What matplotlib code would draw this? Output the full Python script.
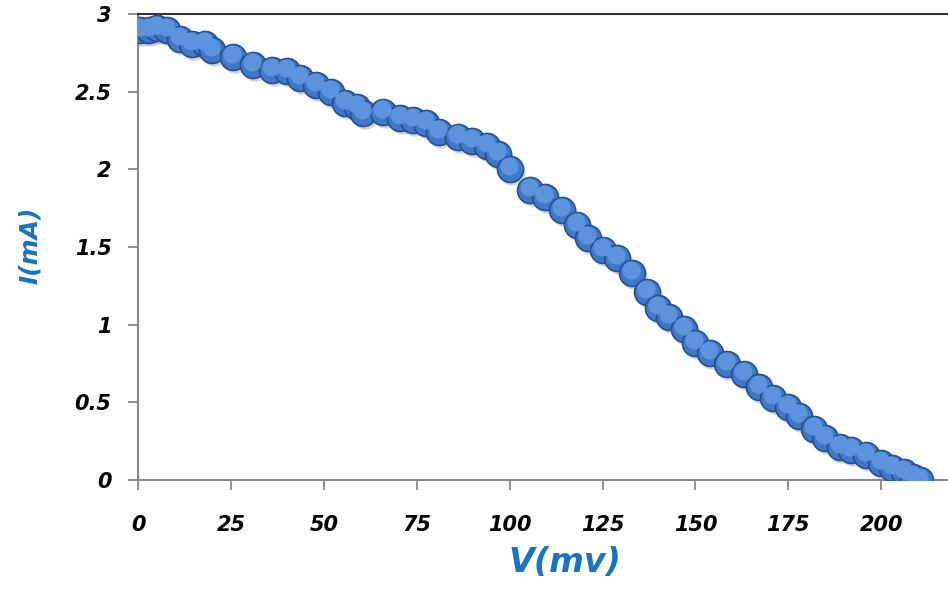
import matplotlib.pyplot as plt
import numpy as np
from matplotlib.transforms import offset_copy

# V (mV) and I (mA)
V = [0.5, 3, 5, 7.8, 11.3, 14.5, 18, 20, 25.6, 31, 36, 40, 43.6, 48, 52, 55.7, 59,
     60.5, 66, 70.5, 74, 77.5, 81, 86, 90, 94, 97, 100, 105.5, 109.5, 114, 118, 121, 125,
     129, 133, 137, 140, 143, 147, 150, 154, 158.5, 163, 167, 171, 175, 178, 182,
     185, 189, 192, 196, 200, 203, 206, 208.5, 210.5]
I = [2.90, 2.90, 2.91, 2.90, 2.84, 2.81, 2.81, 2.77, 2.72, 2.67, 2.64, 2.63, 2.59,
     2.54, 2.50, 2.43, 2.40, 2.36, 2.37, 2.33, 2.32, 2.30, 2.24, 2.21, 2.18, 2.15, 2.10,
     2.00, 1.87, 1.82, 1.74, 1.64, 1.56, 1.48, 1.43, 1.33, 1.21, 1.11, 1.05, 0.97,
     0.88, 0.82, 0.75, 0.68, 0.60, 0.53, 0.47, 0.41, 0.33, 0.27, 0.21, 0.19, 0.16,
     0.11, 0.08, 0.05, 0.02, 0.0]

xticks = [0, 25, 50, 75, 100, 125, 150, 175, 200]
yticks = [0, 0.5, 1, 1.5, 2, 2.5, 3]
ytick_labels = ['0', '0.5', '1', '1.5', '2', '2.5', '3']

fig = plt.figure(figsize=(9.48, 5.90), dpi=100)
ax = fig.add_axes([138/948, 1-480/590, 809/948, 466/590])

# 3d-ish bubbles: shadow, body, highlight
shadow = offset_copy(ax.transData, fig=fig, x=2, y=-3, units='dots')
ax.scatter(V, I, s=360, color='#9aa3ad', alpha=0.45, linewidths=0, transform=shadow, zorder=2)
ax.scatter(V, I, s=350, color='#3f78c9', edgecolors='#26518f', linewidths=1.2, zorder=3)
hl = offset_copy(ax.transData, fig=fig, x=-1, y=3, units='dots')
ax.scatter(V, I, s=170, color='#5b93dc', linewidths=0, transform=hl, zorder=4)

ax.set_xlim(0, 217.7)
ax.set_ylim(0, 3)
ax.set_xticks(xticks)
ax.set_yticks(yticks)
ax.set_yticklabels(ytick_labels)

ax.spines['right'].set_visible(False)
ax.spines['top'].set_color('#333333')
ax.spines['left'].set_color('#888888')
ax.spines['bottom'].set_color('#888888')
for s in ['left', 'bottom', 'top']:
    ax.spines[s].set_linewidth(1.5)

ax.tick_params(axis='both', direction='out', length=7, width=1.3, color='#888888')
ax.tick_params(axis='x', pad=18)
ax.tick_params(axis='y', pad=12)
for lab in ax.get_xticklabels() + ax.get_yticklabels():
    lab.set_fontsize(15)
    lab.set_fontweight('bold')
    lab.set_fontstyle('italic')

ax.set_xlabel('V(mv)', fontsize=24, fontweight='bold', fontstyle='italic', color='#1a73c2')
ax.set_ylabel('I(mA)', fontsize=18, fontweight='bold', fontstyle='italic', color='#1a73c2')
ax.xaxis.label.set_va('center')
ax.yaxis.label.set_va('center')
ax.xaxis.set_label_coords((565-138)/809, -(563-480)/466)
ax.yaxis.set_label_coords(-(138-30)/809, (480-245)/466)

fig.savefig('out.png', dpi=100)
